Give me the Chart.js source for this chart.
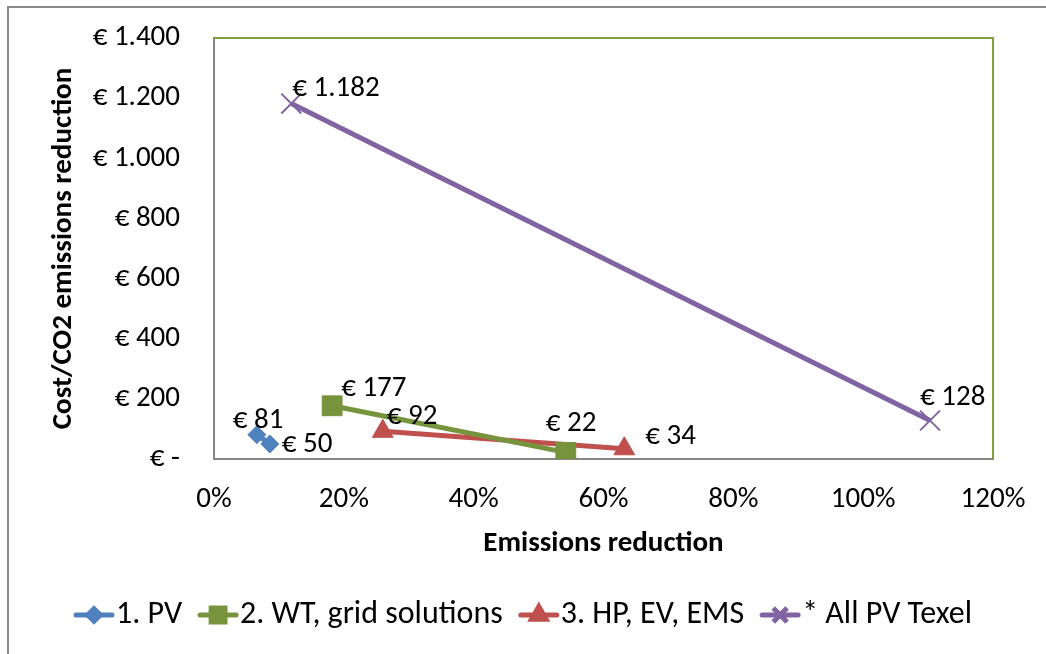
<!DOCTYPE html>
<html>
<head>
<meta charset="utf-8">
<script src="https://cdn.jsdelivr.net/npm/chart.js@4"></script>
<style>
  html, body { margin: 0; padding: 0; background: #fff; }
  #wrap { width: 1046px; height: 654px; }
</style>
</head>
<body>
<div id="wrap"><canvas id="myChart" width="1046" height="654"></canvas></div>
<script>
// emissions reduction (%) and cost per unit of CO2 reduction (EUR)
const pvX = [6.6, 8.6];
const pvY = [81, 50];
const wtX = [18.2, 54.2];
const wtY = [177, 22];
const hpX = [26.0, 63.2];
const hpY = [92, 34];
const allX = [11.9, 110.3];
const allY = [1182, 128];

const seriesNames = ["1. PV", "2. WT, grid solutions", "3. HP, EV, EMS", "* All PV Texel"];
const xTicks = [0, 20, 40, 60, 80, 100, 120];
const yTicks = [0, 200, 400, 600, 800, 1000, 1200, 1400];

// pixel nudges for the value labels (left edge, vertical middle) per point
const labelNudge = [
  [[-24, -14], [12, 1]],
  [[9, -17], [-20, -29]],
  [[4, -15], [21, -12]],
  [[1, -15], [-10, -23]]
];

const FONT = "Carlito, Calibri, Lato, sans-serif";

function euro(v) {
  if (v === 0) return "€ -";
  if (v >= 1000) return "€ " + Math.floor(v / 1000) + "." + String(v % 1000).padStart(3, "0");
  return "€ " + v;
}

function pts(xs, ys) {
  return xs.map((x, i) => ({ x: x, y: ys[i] }));
}

const colors = ["#4F81BD", "#77933C", "#C0504D", "#8064A2"];
const styles = [
  { pointStyle: "rectRot", radius: 9 },
  { pointStyle: "rect", radius: 14 },
  { pointStyle: "triangle", radius: 12 },
  { pointStyle: "crossRot", radius: 14 }
];

const allData = [pts(pvX, pvY), pts(wtX, wtY), pts(hpX, hpY), pts(allX, allY)];

const datasets = allData.map((d, i) => ({
  label: seriesNames[i],
  data: d,
  showLine: true,
  borderColor: colors[i],
  backgroundColor: colors[i],
  borderWidth: 5,
  pointStyle: styles[i].pointStyle,
  pointRadius: styles[i].radius,
  pointHoverRadius: styles[i].radius,
  pointBorderColor: colors[i],
  pointBackgroundColor: colors[i],
  pointBorderWidth: i === 3 ? 2 : 1
}));

// outer frame, plus the green top/right edges of the plot area
const framePlugin = {
  id: "frame",
  beforeDraw(chart) {
    const ctx = chart.ctx;
    ctx.save();
    ctx.fillStyle = "#fff";
    ctx.fillRect(0, 0, chart.width, chart.height);
    ctx.strokeStyle = "#898989";
    ctx.lineWidth = 2;
    ctx.strokeRect(8, 7, chart.width + 10, chart.height + 10);
    ctx.restore();
  },
  beforeDatasetsDraw(chart) {
    const a = chart.chartArea;
    const ctx = chart.ctx;
    ctx.save();
    ctx.strokeStyle = "#7F9F3F";
    ctx.lineWidth = 2;
    ctx.beginPath();
    ctx.moveTo(a.left, a.top);
    ctx.lineTo(a.right, a.top);
    ctx.lineTo(a.right, a.bottom);
    ctx.stroke();
    ctx.restore();
  }
};

// value labels beside the points
const valueLabels = {
  id: "valueLabels",
  afterDatasetsDraw(chart) {
    const ctx = chart.ctx;
    ctx.save();
    ctx.font = "29px " + FONT;
    ctx.fillStyle = "#000";
    ctx.textBaseline = "middle";
    ctx.textAlign = "left";
    chart.data.datasets.forEach((ds, i) => {
      const meta = chart.getDatasetMeta(i);
      meta.data.forEach((p, j) => {
        const n = labelNudge[i][j];
        ctx.fillText(euro(ds.data[j].y), p.x + n[0], p.y + n[1]);
      });
    });
    ctx.restore();
  }
};

// legend: line with marker, then the series name
const lineLegend = {
  id: "lineLegend",
  afterDraw(chart) {
    const ctx = chart.ctx;
    ctx.save();
    ctx.font = "32px " + FONT;
    ctx.textBaseline = "middle";
    ctx.textAlign = "left";
    const y = 615;
    const lineW = 40;
    const gap = 16;
    let total = 0;
    seriesNames.forEach((n) => { total += lineW + 2 + ctx.measureText(n).width; });
    total += gap * (seriesNames.length - 1);
    let x = (chart.width - total) / 2;
    seriesNames.forEach((n, i) => {
      ctx.strokeStyle = colors[i];
      ctx.lineWidth = 5;
      ctx.lineCap = "round";
      ctx.beginPath();
      ctx.moveTo(x + 2, y);
      ctx.lineTo(x + lineW - 2, y);
      ctx.stroke();
      ctx.lineCap = "butt";
      ctx.fillStyle = colors[i];
      Chart.helpers.drawPoint(ctx, {
        pointStyle: styles[i].pointStyle,
        radius: styles[i].radius * 0.7,
        borderWidth: i === 3 ? 1.5 : 1,
        rotation: 0
      }, x + lineW / 2, y);
      if (i !== 3) ctx.fill();
      ctx.fillStyle = "#000";
      ctx.fillText(n, x + lineW + 2, y);
      x += lineW + 2 + ctx.measureText(n).width + gap;
    });
    ctx.restore();
  }
};

const config = {
  type: "scatter",
  data: { datasets },
  options: {
    responsive: false,
    animation: false,
    events: [],
    layout: { padding: { left: 0, top: 38, right: 53, bottom: 93 } },
    plugins: {
      legend: { display: false },
      tooltip: { enabled: false }
    },
    scales: {
      x: {
        type: "linear",
        min: 0,
        max: 120,
        afterBuildTicks(scale) { scale.ticks = xTicks.map((v) => ({ value: v })); },
        afterFit(scale) {
          scale.height = 102;
          scale.paddingLeft = 0;
          scale.paddingRight = 0;
        },
        grid: { display: false, drawTicks: false },
        border: { display: true, color: "#868686", width: 2 },
        ticks: {
          color: "#000",
          font: { family: FONT, size: 29 },
          padding: 23,
          maxRotation: 0,
          callback: (v) => v + "%"
        },
        title: {
          display: true,
          text: "Emissions reduction",
          color: "#000",
          font: { family: FONT, size: 29, weight: "bold" },
          padding: { top: 0, bottom: 0 }
        }
      },
      y: {
        type: "linear",
        min: 0,
        max: 1400,
        afterBuildTicks(scale) { scale.ticks = yTicks.map((v) => ({ value: v })); },
        afterFit(scale) {
          scale.width = 214;
          scale.paddingTop = 0;
          scale.paddingBottom = 0;
        },
        grid: { display: false, drawTicks: false },
        border: { display: true, color: "#868686", width: 2 },
        ticks: {
          color: "#000",
          font: { family: FONT, size: 29 },
          padding: 34,
          callback: (v) => euro(v)
        },
        title: {
          display: true,
          text: "Cost/CO2 emissions reduction",
          color: "#000",
          font: { family: FONT, size: 29, weight: "bold" },
          padding: { top: 46, bottom: 0 }
        }
      }
    }
  },
  plugins: [framePlugin, valueLabels, lineLegend]
};

const myChart = document.getElementById("myChart");
new Chart(myChart, config);
</script>
</body>
</html>
